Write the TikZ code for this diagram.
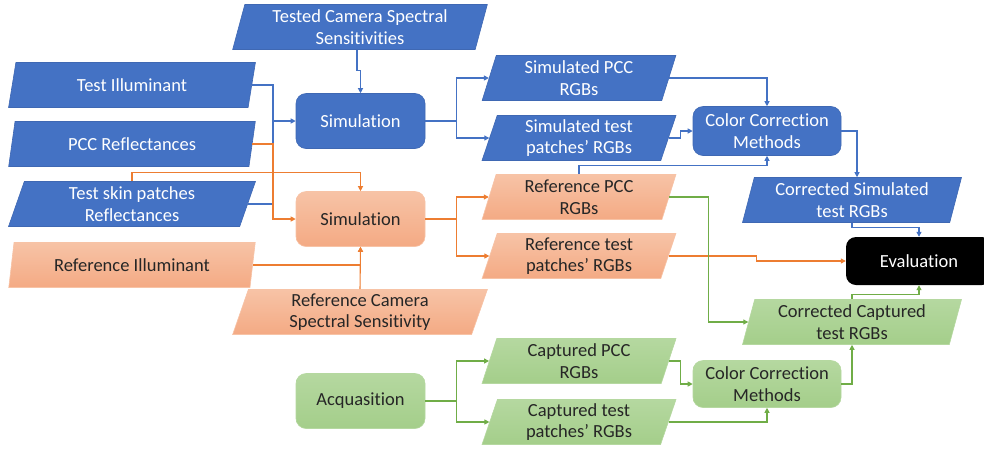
\documentclass[tikz,border=0pt]{standalone}
\usepackage{fontspec}
\setmainfont{Carlito}[Ligatures={NoCommon}]
\usetikzlibrary{shapes.geometric,arrows.meta}
\definecolor{bF}{HTML}{4472C4}
\definecolor{bD}{HTML}{3F68B3}
\definecolor{oL}{HTML}{ED7D31}
\definecolor{oT}{HTML}{F7C3A6}
\definecolor{oB}{HTML}{F4AA84}
\definecolor{gL}{HTML}{70AD47}
\definecolor{gT}{HTML}{B5D8A0}
\definecolor{gB}{HTML}{A4CE8A}
\definecolor{tx}{HTML}{262626}
\begin{document}
\begin{tikzpicture}[x=1pt,y=-1pt,
  base/.style={font=\fontsize{18.5}{21.5}\selectfont, align=center, inner sep=0pt},
  para/.style={base, trapezium, trapezium left angle=75, trapezium right angle=105,
    trapezium stretches=true, minimum height=45},
  rbox/.style={base, rectangle, rounded corners=10pt},
  blueF/.style={fill=bF, draw=bD, line width=0.6pt, text=white},
  orangeF/.style={top color=oT, bottom color=oB, draw=oT, line width=0.6pt, text=tx},
  greenF/.style={top color=gT, bottom color=gB, draw=gT, line width=0.6pt, text=tx},
  conn/.style={line width=1.1pt, -{Triangle[length=5pt,width=5pt]}},
  plain/.style={line width=1.1pt},
  bl/.style={draw=bF}, ol/.style={draw=oL}, gl/.style={draw=gL}
]
\useasboundingbox (0,0) rectangle (984,448);

% left inputs
\node[para, blueF, minimum width=255] (tccs) at (360,27) {Tested Camera Spectral\\Sensitivities};
\node[para, blueF, minimum width=247] (ti) at (132,85) {Test Illuminant};
\node[para, blueF, minimum width=247] (pcc) at (132,144) {PCC Reflectances};
\node[para, blueF, minimum width=247] (skin) at (132,204) {Test skin patches\\Reflectances};
\node[para, orangeF, minimum width=247] (ri) at (132,265) {Reference Illuminant};
\node[para, orangeF, minimum width=255] (rcss) at (360,312) {Reference Camera\\Spectral Sensitivity};

% process boxes
\node[rbox, blueF, minimum width=129, minimum height=55] (simB) at (360.5,121) {Simulation};
\node[rbox, orangeF, minimum width=129, minimum height=55] (simO) at (360.5,219) {Simulation};
\node[rbox, greenF, minimum width=129, minimum height=55] (acq) at (360.5,401) {Acquasition};

% middle data
\node[para, blueF, minimum width=194] (spcc) at (579,78) {Simulated PCC\\RGBs};
\node[para, blueF, minimum width=194] (stest) at (579,138) {Simulated test\\patches’ RGBs};
\node[para, orangeF, minimum width=194] (rpcc) at (579,197) {Reference PCC\\RGBs};
\node[para, orangeF, minimum width=194] (rtest) at (579,256) {Reference test\\patches’ RGBs};
\node[para, greenF, minimum width=194] (cpcc) at (579,361) {Captured PCC\\RGBs};
\node[para, greenF, minimum width=194] (ctest) at (579,422) {Captured test\\patches’ RGBs};

% correction
\node[rbox, blueF, minimum width=148, minimum height=49] (ccmB) at (767,131) {Color Correction\\Methods};
\node[rbox, greenF, minimum width=148, minimum height=47] (ccmG) at (767,384) {Color Correction\\Methods};
\node[para, blueF, minimum width=219] (csim) at (852,200) {Corrected Simulated\\test RGBs};
\node[para, greenF, minimum width=219] (ccap) at (852,322) {Corrected Captured\\test RGBs};
\node[rbox, fill=black, text=white, minimum width=146, minimum height=48] (eval) at (919,261) {Evaluation};

\coordinate (jx) at (273,0);

% blue simulation inputs
\draw[conn,bl] ([xshift=-3pt]tccs.south) -- ++(0,21) -| (simB.north);
\draw[conn,bl] (ti.east) -- (ti.east -| jx) |- (simB.west);
\draw[plain,bl] (skin.east) -| (jx |- simB.west);
% orange simulation inputs
\draw[conn,ol] (pcc.east) -- (pcc.east -| jx) |- (simO.west);
\draw[conn,ol] (skin.north) -- ++(0,-9) -| (simO.north);
\draw[conn,ol] (ri.east) -| (simO.south);
\draw[conn,ol] (rcss.north) -- (simO.south);

% simulation outputs
\draw[conn,bl] (simB.east) -- ++(31,0) |- (spcc.west);
\draw[conn,bl] (simB.east) -- ++(31,0) |- (stest.west);
\draw[conn,ol] (simO.east) -- ++(31,0) |- (rpcc.west);
\draw[conn,ol] (simO.east) -- ++(31,0) |- (rtest.west);
\draw[conn,gl] (acq.east) -- ++(31,0) |- (cpcc.west);
\draw[conn,gl] (acq.east) -- ++(31,0) |- (ctest.west);

% blue correction
\draw[conn,bl] (spcc.east) -| (ccmB.north);
\draw[conn,bl] (stest.east) -- ++(12,0) |- (ccmB.west);
\draw[conn,bl] (rpcc.north) -- ++(0,-9) -| (ccmB.south);
\draw[conn,bl] (ccmB.east) -| ([xshift=5pt]csim.north);
\draw[conn,bl] (csim.south) -- ++(0,5) -| (eval.north);

% orange to evaluation
\draw[conn,ol] (rtest.east) -- ++(88,0) |- (eval.west);

% green correction
\draw[conn,gl] (rpcc.east) -- ++(39,0) |- (ccap.west);
\draw[conn,gl] (cpcc.east) -- ++(12,0) |- (ccmG.west);
\draw[conn,gl] (ctest.east) -| (ccmG.south);
\draw[conn,gl] (ccmG.east) -| (ccap.south);
\draw[conn,gl] (ccap.north) -- ++(0,-5) -| (eval.south);
\end{tikzpicture}
\end{document}
